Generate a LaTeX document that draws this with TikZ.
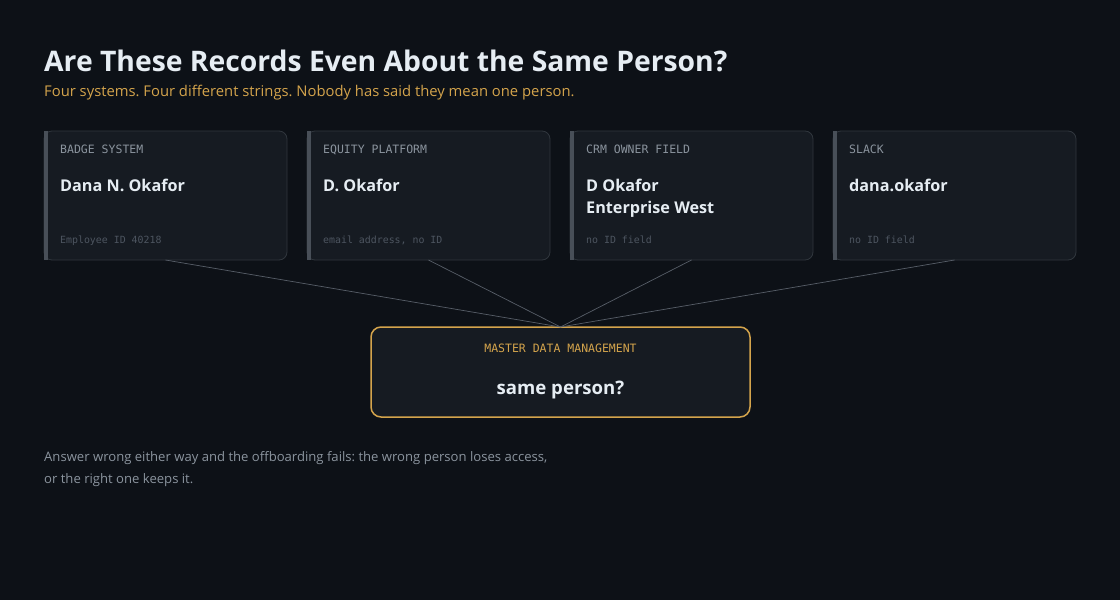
\documentclass[tikz,border=0pt]{standalone}
\usepackage{fontspec}
\setmainfont{Open Sans}
\setmonofont{DejaVu Sans Mono}
\usetikzlibrary{positioning}
\usetikzlibrary{calc}
\frenchspacing

\definecolor{pagebg}{HTML}{0D1117}
\definecolor{cardbg}{HTML}{161B22}
\definecolor{cardline}{HTML}{30363D}
\definecolor{accentbar}{HTML}{484F58}
\definecolor{gold}{HTML}{D4A44C}
\definecolor{titlewhite}{HTML}{E6EDF3}
\definecolor{mutedgray}{HTML}{8B949E}
\definecolor{dimgray}{HTML}{4D5560}
\definecolor{wiregray}{HTML}{575E68}

\tikzset{
  card/.style={draw=cardline, fill=cardbg, rounded corners=8pt, line width=0.8pt,
    minimum width=243pt, minimum height=129pt, inner sep=0pt, outer sep=0pt},
  mdmbox/.style={draw=gold, fill=cardbg, rounded corners=10pt, line width=1.5pt,
    minimum width=379pt, minimum height=90pt, inner sep=0pt, outer sep=0pt},
  syslabel/.style={anchor=base west, inner sep=0pt, text=mutedgray,
    font=\ttfamily\fontsize{11.5}{13}\selectfont},
  person/.style={anchor=base west, inner sep=0pt, text=titlewhite,
    font=\bfseries\fontsize{16.2}{19}\selectfont},
  idnote/.style={anchor=base west, inner sep=0pt, text=dimgray,
    font=\ttfamily\fontsize{9.9}{11}\selectfont},
  wire/.style={draw=wiregray, line width=0.7pt}
}

\begin{document}
\begin{tikzpicture}[x=1pt,y=-1pt]
\fill[pagebg] (0,0) rectangle (1120,600);
\useasboundingbox (0,0) rectangle (1120,600);

\node[anchor=base west, inner sep=0pt, text=titlewhite, font=\bfseries\fontsize{28.3}{32}\selectfont]
  (title) at (44,71) {Are These Records Even About the Same Person?};
\node[anchor=base west, inner sep=0pt, text=gold, font=\fontsize{14.8}{18}\selectfont]
  (subtitle) at (44,96) {Four systems. Four different strings. Nobody has said they mean one person.};

% the four source systems
\node[card] (badge) at (165.5,195.5) {};
\node[card, right=20pt of badge] (equity) {};
\node[card, right=20pt of equity] (crm) {};
\node[card, right=20pt of crm] (slack) {};

\foreach \c in {badge,equity,crm,slack}
  \fill[accentbar] (\c.north west) rectangle ([xshift=4pt]\c.south west);

\node[syslabel] (badgelbl) at ([shift={(16,22)}]badge.north west) {BADGE SYSTEM};
\node[person] (badgename) at ([shift={(16,60)}]badge.north west) {Dana N. Okafor};
\node[idnote] (badgeid) at ([shift={(16,112)}]badge.north west) {Employee ID 40218};

\node[syslabel] (equitylbl) at ([shift={(16,22)}]equity.north west) {EQUITY PLATFORM};
\node[person] (equityname) at ([shift={(16,60)}]equity.north west) {D. Okafor};
\node[idnote] (equityid) at ([shift={(16,112)}]equity.north west) {email address, no ID};

\node[syslabel] (crmlbl) at ([shift={(16,22)}]crm.north west) {CRM OWNER FIELD};
\node[person] (crmname) at ([shift={(16,60)}]crm.north west) {D Okafor};
\node[person] (crmunit) at ([shift={(16,82)}]crm.north west) {Enterprise West};
\node[idnote] (crmid) at ([shift={(16,112)}]crm.north west) {no ID field};

\node[syslabel] (slacklbl) at ([shift={(16,22)}]slack.north west) {SLACK};
\node[person] (slackname) at ([shift={(16,60)}]slack.north west) {dana.okafor};
\node[idnote] (slackid) at ([shift={(16,112)}]slack.north west) {no ID field};

% where they all have to meet
\node[mdmbox] (mdm) at (560.5,372) {};
\node[anchor=base, inner sep=0pt, text=gold, font=\ttfamily\fontsize{11.5}{13}\selectfont]
  (mdmlbl) at ([yshift=-25pt]mdm.north) {MASTER DATA MANAGEMENT};
\node[anchor=base, inner sep=0pt, text=titlewhite, font=\bfseries\fontsize{18.6}{22}\selectfont]
  (mdmq) at ([yshift=-67pt]mdm.north) {same person?};

\foreach \c in {badge,equity,crm,slack}
  \draw[wire] (\c.south) -- (mdm.north);

\node[anchor=base west, inner sep=0pt, text=mutedgray, font=\fontsize{13.1}{16}\selectfont]
  (note) at (44,461) {Answer wrong either way and the offboarding fails: the wrong person loses access,};
\node[anchor=base west, inner sep=0pt, text=mutedgray, font=\fontsize{13.1}{16}\selectfont]
  (notecont) at (44,483) {or the right one keeps it.};
\end{tikzpicture}
\end{document}
